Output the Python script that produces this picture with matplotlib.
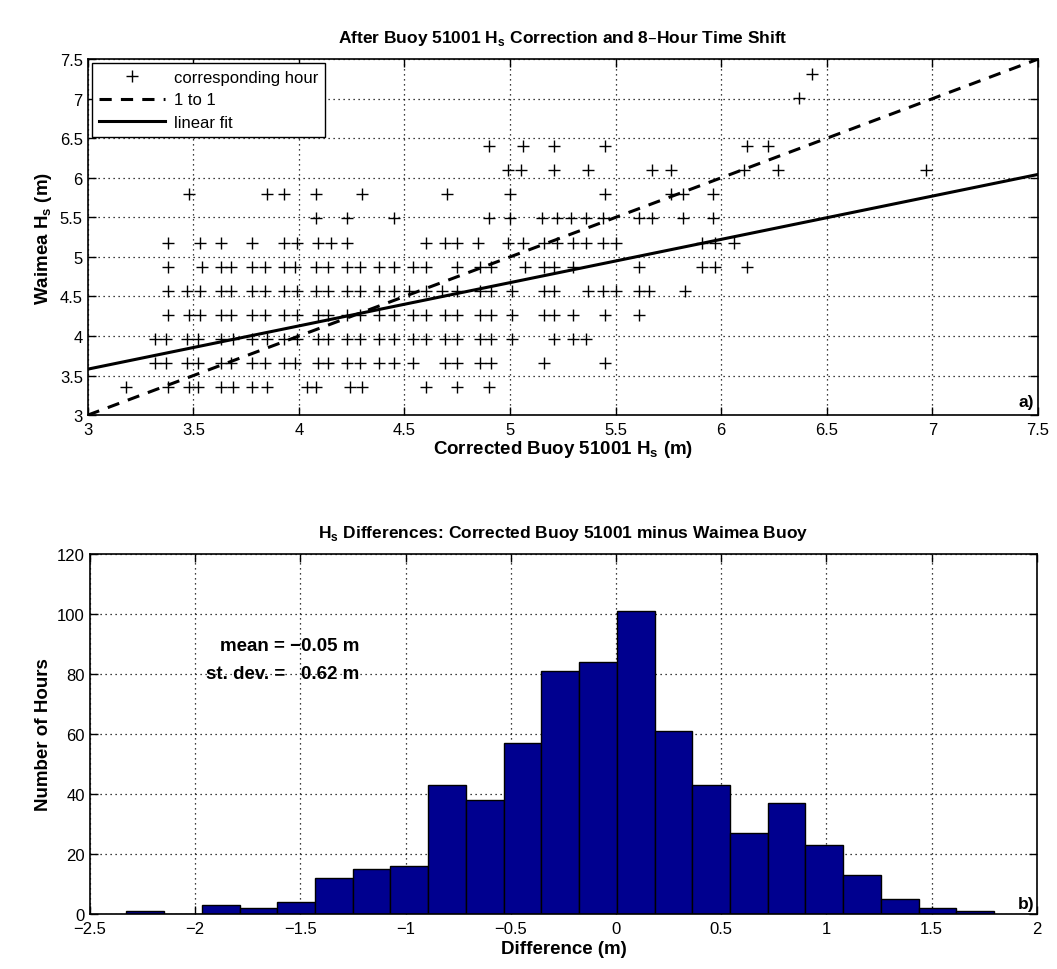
import numpy as np
import matplotlib
matplotlib.use("Agg")
import matplotlib.pyplot as plt

plt.rcParams['font.family'] = ['Liberation Sans', 'DejaVu Sans']

# Waimea Hs levels (m) and the corrected buoy Hs read along each level
y_levels = [3.353, 3.658, 3.962, 4.267, 4.572, 4.877, 5.182, 5.486, 5.791, 6.096, 6.401, 7.010, 7.315]
x_11ft = [3.18, 3.38, 3.48, 3.52, 3.63, 3.69, 3.78, 3.85, 4.04, 4.08, 4.24, 4.30, 4.60, 4.75, 4.90]
x_12ft = [3.32, 3.37, 3.47, 3.52, 3.63, 3.68, 3.78, 3.84, 3.93, 3.98, 4.09, 4.14, 4.23, 4.29, 4.38, 4.45,
          4.54, 4.69, 4.75, 4.86, 4.91, 5.16, 5.45]
x_13ft = [3.32, 3.37, 3.47, 3.52, 3.63, 3.69, 3.78, 3.85, 3.93, 3.99, 4.09, 4.14, 4.23, 4.29, 4.38, 4.45,
          4.54, 4.60, 4.69, 4.75, 4.86, 4.91, 5.01, 5.21, 5.30, 5.36]
x_14ft = [3.38, 3.48, 3.53, 3.63, 3.68, 3.78, 3.84, 3.93, 3.99, 4.09, 4.14, 4.23, 4.29, 4.38, 4.45,
          4.54, 4.60, 4.69, 4.75, 4.86, 4.91, 5.01, 5.16, 5.21, 5.30, 5.45, 5.61]
x_15ft = [3.38, 3.47, 3.53, 3.63, 3.68, 3.78, 3.84, 3.93, 3.99, 4.08, 4.14, 4.23, 4.29, 4.38, 4.45,
          4.52, 4.60, 4.68, 4.75, 4.86, 4.91, 5.01, 5.16, 5.21, 5.37, 5.44, 5.50, 5.61, 5.66, 5.83]
x_16ft = [3.38, 3.54, 3.63, 3.68, 3.78, 3.84, 3.93, 3.98, 4.08, 4.14, 4.23, 4.29, 4.38, 4.45,
          4.54, 4.60, 4.75, 4.86, 4.91, 5.07, 5.16, 5.21, 5.30, 5.61, 5.91, 5.97, 6.12]
x_17ft = [3.38, 3.53, 3.63, 3.78, 3.93, 3.99, 4.09, 4.15, 4.23,
          4.60, 4.69, 4.75, 4.85, 4.99, 5.06, 5.16, 5.22, 5.30, 5.36, 5.44, 5.50, 5.91, 5.97, 6.06]
x_18ft = [4.08, 4.23, 4.45, 4.90, 5.00, 5.15, 5.22, 5.29, 5.36, 5.44, 5.61, 5.67, 5.82, 5.96]
x_19ft = [3.48, 3.85, 3.93, 4.08, 4.30, 4.70, 5.00, 5.45, 5.76, 5.82, 5.96]
x_20ft = [4.99, 5.05, 5.21, 5.37, 5.67, 5.76, 6.11, 6.27, 6.97]
x_21ft = [4.90, 5.06, 5.21, 5.45, 6.12, 6.22]
x_23ft = [6.37]
x_24ft = [6.43]
x_rows = [x_11ft, x_12ft, x_13ft, x_14ft, x_15ft, x_16ft, x_17ft, x_18ft,
          x_19ft, x_20ft, x_21ft, x_23ft, x_24ft]

fit_slope = 0.547
fit_intercept = 1.94

# histogram of differences
bin_edges = np.linspace(-2.326, 1.796, 24)
counts = [1, 0, 3, 2, 4, 12, 15, 16, 43, 38, 57, 81, 84, 101, 61, 43, 27, 37, 23, 13, 5, 2, 1]
diff_mean = -0.05
diff_std = 0.62

fig = plt.figure(figsize=(10.57, 9.70), dpi=100)
ax1 = fig.add_axes([0.083, 0.571, 0.899, 0.367])
ax2 = fig.add_axes([0.085, 0.057, 0.896, 0.371])

xs = np.concatenate([np.array(r) for r in x_rows])
ys = np.concatenate([np.full(len(r), y) for r, y in zip(x_rows, y_levels)])

ax1.plot(xs, ys, '+', color='black', markersize=8, markeredgewidth=1.0, label='corresponding hour')
line_x = np.array([3, 7.5])
ax1.plot(line_x, line_x, '--', color='black', linewidth=2.2, dashes=(4, 3), label='1 to 1')
ax1.plot(line_x, fit_slope * line_x + fit_intercept, '-', color='black', linewidth=2.2, label='linear fit')

ax1.set_xlim(3, 7.5)
ax1.set_ylim(3, 7.5)
ax1.set_xticks(np.arange(3, 7.51, 0.5))
ax1.set_yticks(np.arange(3, 7.51, 0.5))
ax1.set_xticklabels(['3', '3.5', '4', '4.5', '5', '5.5', '6', '6.5', '7', '7.5'])
ax1.set_yticklabels(['3', '3.5', '4', '4.5', '5', '5.5', '6', '6.5', '7', '7.5'])
ax1.set_title('After Buoy 51001 H$_\\mathregular{s}$ Correction and 8\u2013Hour Time Shift',
              fontsize=12.5, fontweight='bold', pad=12)
ax1.set_xlabel('Corrected Buoy 51001 H$_\\mathregular{s}$ (m)', fontsize=13.5, fontweight='bold', labelpad=1)
ax1.set_ylabel('Waimea H$_\\mathregular{s}$ (m)', fontsize=13.5, fontweight='bold', labelpad=4)
ax1.text(7.48, 3.08, 'a)', fontsize=12.5, fontweight='bold', ha='right', va='bottom')
leg = ax1.legend(loc='upper left', fontsize=12, frameon=True, fancybox=False, edgecolor='black',
                 framealpha=1, handlelength=4.0, handletextpad=0.5, borderaxespad=0.25,
                 labelspacing=0.45, borderpad=0.4)
leg.get_frame().set_linewidth(1.0)

ax2.bar(bin_edges[:-1], counts, width=np.diff(bin_edges), align='edge',
        color='#00008F', edgecolor='black', linewidth=1.0, zorder=2)
ax2.set_xlim(-2.5, 2)
ax2.set_ylim(0, 120)
ax2.set_xticks(np.arange(-2.5, 2.01, 0.5))
ax2.set_xticklabels(['\u22122.5', '\u22122', '\u22121.5', '\u22121', '\u22120.5', '0', '0.5', '1', '1.5', '2'])
ax2.set_yticks(np.arange(0, 121, 20))
ax2.set_title('H$_\\mathregular{s}$ Differences: Corrected Buoy 51001 minus Waimea Buoy',
              fontsize=12.5, fontweight='bold', pad=12)
ax2.set_xlabel('Difference (m)', fontsize=13.5, fontweight='bold', labelpad=3)
ax2.set_ylabel('Number of Hours', fontsize=13.5, fontweight='bold', labelpad=4)
ax2.text(-1.22, 89.5, 'mean = \u2212%.2f m' % abs(diff_mean), fontsize=13.5, fontweight='bold',
         ha='right', va='center')
ax2.text(-1.22, 80, 'st. dev. =   %.2f m' % diff_std, fontsize=13.5, fontweight='bold',
         ha='right', va='center')
ax2.text(1.99, 1, 'b)', fontsize=12.5, fontweight='bold', ha='right', va='bottom')

for ax in (ax1, ax2):
    ax.grid(True, linestyle=(0, (1, 3)), color='black', linewidth=0.9)
    ax.set_axisbelow(False)
    ax.tick_params(direction='in', top=True, right=True, length=6, width=1, labelsize=12)
    ax.tick_params(axis='x', pad=5)
    for s in ax.spines.values():
        s.set_linewidth(1.2)
ax2.set_axisbelow(True)

fig.savefig('out.png', dpi=100)
